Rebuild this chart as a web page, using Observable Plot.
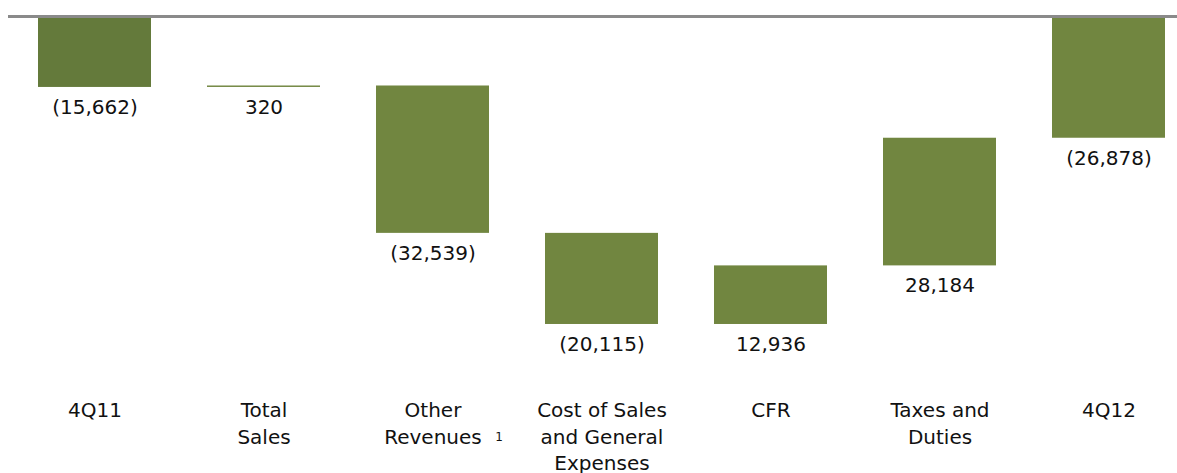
<!DOCTYPE html>
<html>
<head>
<meta charset="utf-8">
<script src="https://cdn.jsdelivr.net/npm/d3@7"></script>
<script src="https://cdn.jsdelivr.net/npm/@observablehq/plot@0.6"></script>
<style>
  html, body { margin: 0; padding: 0; background: #ffffff; }
  #chart { width: 1177px; height: 473px; overflow: hidden; }
</style>
</head>
<body>
<div id="chart"></div>
<script>
// Waterfall: 4Q11 -> 4Q12
const categories = ["4Q11", "Total Sales", "Other Revenues", "Cost of Sales and General Expenses", "CFR", "Taxes and Duties", "4Q12"];
const tickLabels = ["4Q11", "Total\nSales", "Other\nRevenues", "Cost of Sales\nand General\nExpenses", "CFR", "Taxes and\nDuties", "4Q12"];
const values = [-15662, 320, -32539, -20115, 12936, 28184, -26878];
const isTotal = [true, false, false, false, false, false, true];
const footnotes = [{category: "Other Revenues", note: "1"}];

// build waterfall table
let running = 0;
const rows = categories.map((c, i) => {
  let y1, y2;
  if (isTotal[i]) { y1 = 0; y2 = values[i]; running = values[i]; }
  else { y1 = running; y2 = running + values[i]; running = y2; }
  return {category: c, value: values[i], y1, y2, low: Math.min(y1, y2), total: isTotal[i]};
});
const labelOf = new Map(categories.map((c, i) => [c, tickLabels[i]]));
const fmt = v => v < 0 ? "(" + d3.format(",")(-v) + ")" : d3.format(",")(v);

const chart = Plot.plot({
  width: 1177,
  height: 473,
  marginTop: 0,
  marginLeft: 8,
  marginRight: 0,
  marginBottom: 149,
  style: {fontFamily: "DejaVu Sans, sans-serif", background: "#ffffff"},
  x: {domain: categories, range: [8, 1194], paddingInner: 0.333, paddingOuter: 0.1667, align: 0.5, axis: null, label: null},
  y: {domain: [-68000, 0], range: [324, 16], axis: null, label: null},
  marks: [
    Plot.rectY(rows, {
      x: "category", y1: "y1", y2: "y2",
      fill: d => d.total && d.category === "4Q11" ? "#647a3b" : "#718640"
    }),
    Plot.ruleY([0], {stroke: "#8a8a8a", strokeWidth: 3}),
    Plot.text(rows, {
      x: "category", y: "low", text: d => fmt(d.value),
      dy: 20, fontSize: 20, fill: "#111111", lineAnchor: "middle"
    }),
    Plot.axisX({
      anchor: "bottom", tickSize: 0, tickPadding: 74, label: null,
      tickFormat: c => labelOf.get(c), fontSize: 20, lineHeight: 1.32,
      color: "#111111"
    }),
    Plot.text(footnotes, {
      x: "category", y: -68000, text: "note",
      dx: 66, dy: 113, fontSize: 12, fill: "#111111"
    })
  ]
});
document.getElementById("chart").appendChild(chart);
</script>
</body>
</html>
